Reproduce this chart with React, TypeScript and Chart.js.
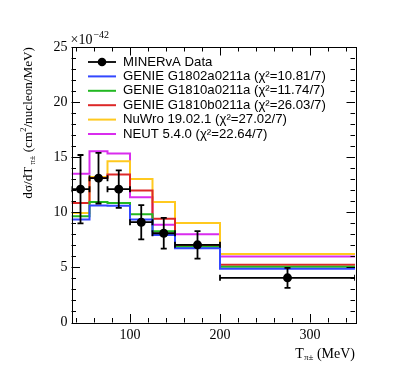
import React, { useEffect, useRef } from 'react';
import { Chart, registerables } from 'chart.js';
Chart.register(...registerables);

// ---- data ----
const binEdges = [35, 55, 75, 100, 125, 150, 200, 350];
const dataValues = [12.1, 13.1, 12.1, 9.1, 8.1, 7.05, 4.05];
const dataErrors = [3.1, 2.3, 1.7, 1.55, 1.4, 1.25, 0.9];
const genie1802 = [9.34, 10.62, 10.6, 9.34, 7.95, 6.74, 4.88];
const genie1810a = [9.64, 10.94, 10.84, 9.82, 8.28, 6.87, 5.06];
const genie1810b = [10.85, 13.12, 13.43, 11.97, 9.42, 6.97, 5.24];
const nuwro = [9.94, 13.2, 14.64, 13.03, 10.94, 9.03, 6.21];
const neut = [13.49, 15.55, 15.33, 11.36, 8.88, 8.0, 6.0];

const xMajorTicks = [100, 200, 300];
const yMajorStep = 5;

const legendLabels = [
  'MINERvA Data',
  'GENIE G1802a0211a (χ²=10.81/7)',
  'GENIE G1810a0211a (χ²=11.74/7)',
  'GENIE G1810b0211a (χ²=26.03/7)',
  'NuWro 19.02.1 (χ²=27.02/7)',
  'NEUT 5.4.0 (χ²=22.64/7)',
];
const modelColors = ['#3347ff', '#22b822', '#dd2828', '#ffc91f', '#d92cee'];
const modelSeries = [genie1802, genie1810a, genie1810b, nuwro, neut];

const SERIF = '"Liberation Serif", "Times New Roman", serif';
const SANS = '"Liberation Sans", Arial, sans-serif';

function stepPoints(vals: number[]) {
  const pts = vals.map((v, i) => ({ x: binEdges[i], y: v }));
  pts.push({ x: binEdges[binEdges.length - 1], y: vals[vals.length - 1] });
  return pts;
}

const rootPlugin = {
  id: 'rootStyle',
  afterDatasetsDraw(chart: any) {
    const ctx = chart.ctx;
    const xs = chart.scales.x;
    const ys = chart.scales.y;
    const ca = chart.chartArea;
    ctx.save();
    ctx.beginPath();
    ctx.rect(ca.left, ca.top, ca.right - ca.left, ca.bottom - ca.top);
    ctx.clip();
    ctx.strokeStyle = '#000';
    ctx.lineWidth = 1.8;
    const cap = 3;
    dataValues.forEach((v, i) => {
      const xl = xs.getPixelForValue(binEdges[i]);
      const xr = xs.getPixelForValue(binEdges[i + 1]);
      const xc = xs.getPixelForValue((binEdges[i] + binEdges[i + 1]) / 2);
      const yc = ys.getPixelForValue(v);
      const yt = ys.getPixelForValue(v + dataErrors[i]);
      const yb = ys.getPixelForValue(v - dataErrors[i]);
      ctx.beginPath();
      ctx.moveTo(xl, yc); ctx.lineTo(xr, yc);
      ctx.moveTo(xl, yc - cap); ctx.lineTo(xl, yc + cap);
      ctx.moveTo(xr, yc - cap); ctx.lineTo(xr, yc + cap);
      ctx.moveTo(xc, yt); ctx.lineTo(xc, yb);
      ctx.moveTo(xc - cap, yt); ctx.lineTo(xc + cap, yt);
      ctx.moveTo(xc - cap, yb); ctx.lineTo(xc + cap, yb);
      ctx.stroke();
    });
    ctx.restore();
  },
  afterDraw(chart: any) {
    const ctx = chart.ctx;
    const xs = chart.scales.x;
    const ys = chart.scales.y;
    const ca = chart.chartArea;
    ctx.save();
    // frame
    ctx.strokeStyle = '#000';
    ctx.lineWidth = 1;
    ctx.strokeRect(Math.round(ca.left) + 0.5, Math.round(ca.top) + 0.5,
      Math.round(ca.right - ca.left), Math.round(ca.bottom - ca.top));
    // ticks
    const major = 8.5, minor = 4.5;
    ctx.beginPath();
    for (let v = 40; v <= 340; v += 20) {
      const len = xMajorTicks.includes(v) ? major : minor;
      const px = Math.round(xs.getPixelForValue(v)) + 0.5;
      ctx.moveTo(px, ca.bottom); ctx.lineTo(px, ca.bottom - len);
      ctx.moveTo(px, ca.top); ctx.lineTo(px, ca.top + len);
    }
    for (let v = 0; v <= 25; v += 1) {
      const len = v % yMajorStep === 0 ? major : minor;
      const py = Math.round(ys.getPixelForValue(v)) + 0.5;
      ctx.moveTo(ca.left, py); ctx.lineTo(ca.left + len, py);
      ctx.moveTo(ca.right, py); ctx.lineTo(ca.right - len, py);
    }
    ctx.stroke();

    ctx.fillStyle = '#000';
    ctx.textBaseline = 'middle';
    // exponent
    ctx.font = `14px ${SERIF}`;
    ctx.textAlign = 'left';
    ctx.fillText('×10', ca.left - 1, 40);
    const w10 = ctx.measureText('×10').width;
    ctx.font = `10px ${SERIF}`;
    ctx.fillText('−42', ca.left - 1 + w10 + 1, 35);

    // x title
    const xParts = [
      { t: 'T', size: 14, dy: 0 },
      { t: 'π±', size: 9, dy: 4 },
      { t: ' (MeV)', size: 14, dy: 0 },
    ];
    let total = 0;
    xParts.forEach(p => { ctx.font = `${p.size}px ${SERIF}`; total += ctx.measureText(p.t).width; });
    let x0 = ca.right - total;
    xParts.forEach(p => {
      ctx.font = `${p.size}px ${SERIF}`;
      ctx.fillText(p.t, x0, 354 + p.dy);
      x0 += ctx.measureText(p.t).width;
    });

    // y title
    const yParts = [
      { t: 'dσ/dT', size: 13.2, dy: 0 },
      { t: ' π±', size: 8.5, dy: 4 },
      { t: ' (cm', size: 13.2, dy: 0 },
      { t: '2', size: 8.5, dy: -5 },
      { t: '/nucleon/MeV)', size: 13.2, dy: 0 },
    ];
    total = 0;
    yParts.forEach(p => { ctx.font = `${p.size}px ${SERIF}`; total += ctx.measureText(p.t).width; });
    ctx.save();
    ctx.translate(29, ca.top);
    ctx.rotate(-Math.PI / 2);
    let t0 = -total;
    yParts.forEach(p => {
      ctx.font = `${p.size}px ${SERIF}`;
      ctx.fillText(p.t, t0, p.dy);
      t0 += ctx.measureText(p.t).width;
    });
    ctx.restore();

    // legend
    const lx0 = 88, lx1 = 116, tx = 123;
    ctx.font = `13.2px ${SANS}`;
    legendLabels.forEach((lab, i) => {
      const y = 62 + i * 14.4;
      ctx.beginPath();
      if (i === 0) {
        ctx.strokeStyle = '#000';
        ctx.lineWidth = 1.8;
        ctx.moveTo(lx0, y); ctx.lineTo(lx1, y);
        ctx.stroke();
        ctx.beginPath();
        ctx.fillStyle = '#000';
        ctx.arc((lx0 + lx1) / 2, y, 4.3, 0, Math.PI * 2);
        ctx.fill();
      } else {
        ctx.strokeStyle = modelColors[i - 1];
        ctx.lineWidth = 2;
        ctx.moveTo(lx0, y); ctx.lineTo(lx1, y);
        ctx.stroke();
      }
      ctx.fillStyle = '#000';
      ctx.fillText(lab, tx, y);
    });
    ctx.restore();
  },
};

export default function App() {
  const ref = useRef<HTMLCanvasElement>(null);
  useEffect(() => {
    if (!ref.current) return;
    const datasets: any[] = [
      {
        label: legendLabels[0],
        data: dataValues.map((v, i) => ({ x: (binEdges[i] + binEdges[i + 1]) / 2, y: v })),
        showLine: false,
        pointRadius: 4.5,
        pointBackgroundColor: '#000',
        pointBorderColor: '#000',
        pointBorderWidth: 0,
        order: 0,
      },
      ...modelSeries.map((s, i) => ({
        label: legendLabels[i + 1],
        data: stepPoints(s),
        stepped: 'before',
        borderColor: modelColors[i],
        borderWidth: 2,
        pointRadius: 0,
        fill: false,
        order: 1 + i,
      })),
    ];
    const chart = new Chart(ref.current, {
      type: 'line',
      data: { datasets },
      options: {
        responsive: false,
        animation: false,
        devicePixelRatio: 1,
        layout: { padding: { top: 47, right: 44, left: 0, bottom: 0 } },
        plugins: { legend: { display: false }, tooltip: { enabled: false } },
        scales: {
          x: {
            type: 'linear',
            min: 35,
            max: 350,
            afterFit: (s: any) => { s.height = 57.5; },
            ticks: {
              stepSize: 100,
              includeBounds: false,
              maxRotation: 0,
              autoSkip: false,
              padding: 4,
              color: '#000',
              font: { family: SERIF, size: 14 },
            },
            grid: { display: false, drawTicks: false },
            border: { display: false },
          },
          y: {
            type: 'linear',
            min: 0,
            max: 25,
            afterFit: (s: any) => { s.width = 71.5; },
            ticks: {
              stepSize: yMajorStep,
              padding: 4,
              color: '#000',
              font: { family: SERIF, size: 14 },
            },
            grid: { display: false, drawTicks: false },
            border: { display: false },
          },
        },
      },
      plugins: [rootPlugin],
    });
    return () => chart.destroy();
  }, []);
  return (
    <div style={{ position: 'fixed', left: 0, top: 0, width: 399, height: 380, background: '#fff' }}>
      <canvas ref={ref} width={399} height={380} />
    </div>
  );
}
